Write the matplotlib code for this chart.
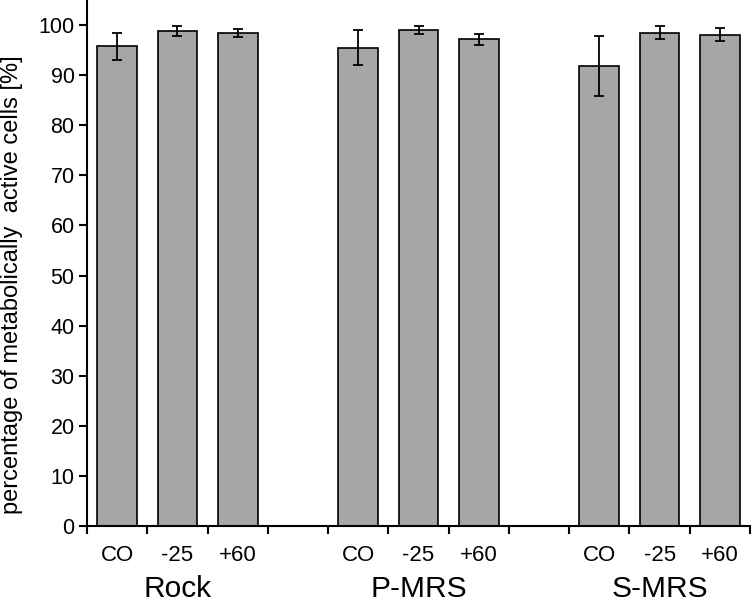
import matplotlib
matplotlib.use("Agg")
import matplotlib.pyplot as plt
import numpy as np
from matplotlib.transforms import blended_transform_factory

plt.rcParams['font.family'] = ['Liberation Sans', 'DejaVu Sans']

groups = ["Rock", "P-MRS", "S-MRS"]
treatments = ["CO", "-25", "+60"]
values = [
    [95.8, 98.9, 98.4],
    [95.5, 99.1, 97.2],
    [91.9, 98.5, 98.1],
]
errors = [
    [2.7, 1.0, 0.8],
    [3.5, 0.8, 1.1],
    [6.0, 1.3, 1.3],
]
yticks = list(range(0, 101, 10))

fig = plt.figure(figsize=(7.53, 6.04), dpi=100)
ax = fig.add_axes([87/753, 78/604, (750-87)/753, 526/604])

positions = []
vals = []
errs = []
labels = []
for gi in range(len(groups)):
    for ti in range(len(treatments)):
        positions.append(gi * 4 + ti)
        vals.append(values[gi][ti])
        errs.append(errors[gi][ti])
        labels.append(treatments[ti])

ax.bar(positions, vals, width=0.66, color="#a6a6a6", edgecolor="black", linewidth=1.2, zorder=2)
ax.errorbar(positions, vals, yerr=errs, fmt="none", ecolor="black", elinewidth=1.3,
            capsize=3.5, capthick=1.3, zorder=3)

ax.set_xlim(-0.5, 10.5)
ax.set_ylim(0, 105)
ax.set_yticks(yticks)
ax.set_yticklabels([str(t) for t in yticks], fontsize=15.5)
ax.tick_params(axis="y", direction="out", length=6, width=1.5, pad=3)

ax.set_xticks(positions)
ax.set_xticklabels(labels, fontsize=16)
ax.tick_params(axis="x", which="major", length=0, pad=14)
ax.set_xticks(np.arange(-0.5, 11, 1.0), minor=True)
ax.tick_params(axis="x", which="minor", direction="out", length=6, width=1.5)

for s in ["top", "right"]:
    ax.spines[s].set_visible(False)
for s in ["left", "bottom"]:
    ax.spines[s].set_linewidth(1.5)

trans = blended_transform_factory(ax.transData, fig.transFigure)
for gi, g in enumerate(groups):
    ax.text(gi * 4 + 1, 1/604, g, transform=trans, ha="center", va="bottom", fontsize=21.5)

ax.set_ylabel("percentage of metabolically  active cells [%]", fontsize=17)
ax.yaxis.set_label_coords(-0.097, 0.458)

fig.savefig("out.png", dpi=100)
